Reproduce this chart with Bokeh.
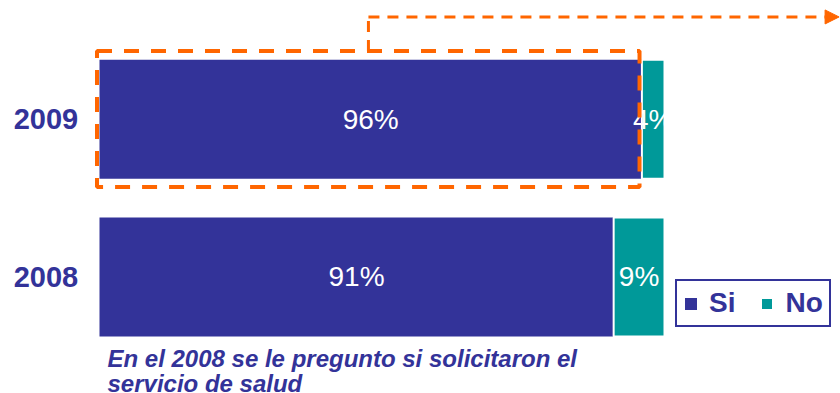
from bokeh.plotting import figure
from bokeh.models import ColumnDataSource, Range1d, BoxAnnotation, Label, Legend, LegendItem, Arrow, NormalHead
from bokeh.embed import file_html
from bokeh.resources import INLINE

# ---- data ----
years = ["2008", "2009"]
si = [91, 96]
no = [9, 4]
series = ["Si", "No"]
footnote = ["En el 2008 se le pregunto si solicitaron el", "servicio de salud"]

BLUE = "#333399"
TEAL = "#009999"
ORANGE = "#FF6600"
FONT = "Liberation Sans"

ypos = list(range(len(years)))
src = ColumnDataSource(dict(
    y=ypos,
    year=years,
    zero=[0] * len(years),
    si=si,
    no_right=[a + b for a, b in zip(si, no)],
    si_mid=[a / 2 for a in si],
    no_mid=[a + b / 2 for a, b in zip(si, no)],
    si_lbl=[f"{v}%" for v in si],
    no_lbl=[f"{v}%" for v in no],
))

p = figure(width=840, height=393,
           x_range=Range1d(-17.52, 131.15), y_range=Range1d(-0.7383, 1.7522),
           output_backend="svg", toolbar_location=None,
           x_axis_type=None, y_axis_type=None, min_border=0,
           outline_line_color=None)
p.grid.visible = False

BAR_H = 0.755
r_si = p.hbar(y="y", left="zero", right="si", height=BAR_H, source=src,
              fill_color=BLUE, line_color=None)
r_no = p.hbar(y="y", left="si", right="no_right", height=BAR_H, source=src,
              fill_color=TEAL, line_color="white", line_width=2)

p.text(x="si_mid", y="y", text="si_lbl", source=src, text_align="center",
       text_baseline="middle", text_color="white", text_font_size="28px",
       text_font={"value": FONT})
p.text(x="no_mid", y="y", text="no_lbl", source=src, text_align="center",
       text_baseline="middle", text_color="white", text_font_size="28px",
       text_font={"value": FONT})
p.text(x=-9.47, y="y", text="year", source=src, text_align="center",
       text_baseline="middle", text_color=BLUE, text_font_size="29px",
       text_font_style="bold", text_font={"value": FONT})

# highlight box around 2009 "Si"
box = BoxAnnotation(left=-0.44, right=95.58, bottom=0.570, top=1.432,
                    fill_alpha=0, fill_color=None, line_color=ORANGE,
                    line_alpha=1, line_width=4, line_dash="15 12")
p.add_layout(box)

# connector + arrow
p.line(x=[47.6, 47.6], y=[1.432, 1.648], line_color=ORANGE, line_width=3,
       line_dash="11 8")
p.add_layout(Arrow(x_start=47.6, y_start=1.648, x_end=130.9, y_end=1.648,
                   line_color=ORANGE, line_width=3, line_dash="11 8",
                   end=NormalHead(size=14, fill_color=ORANGE, line_color=ORANGE,
                                  line_width=1)))

# footnote
p.add_layout(Label(x=107, y=35, x_units="screen", y_units="screen", text=footnote[0],
                   text_font=FONT, text_font_size="24px", text_font_style="bold italic",
                   text_color=BLUE, text_baseline="alphabetic"))
p.add_layout(Label(x=107, y=10, x_units="screen", y_units="screen", text=footnote[1],
                   text_font=FONT, text_font_size="24px", text_font_style="bold italic",
                   text_color=BLUE, text_baseline="alphabetic"))

legend = Legend(items=[LegendItem(label=series[0], renderers=[r_si]),
                       LegendItem(label=series[1], renderers=[r_no])],
                location=(675, 66), orientation="horizontal",
                border_line_color=BLUE, border_line_width=2, border_line_alpha=1,
                background_fill_color="white", background_fill_alpha=1,
                label_text_font=FONT, label_text_font_size="28px",
                label_text_font_style="bold", label_text_color=BLUE,
                glyph_width=15, glyph_height=15, label_standoff=11, spacing=24,
                padding=6, margin=0)
p.add_layout(legend)

open("out.html", "w").write(file_html(p, INLINE))
